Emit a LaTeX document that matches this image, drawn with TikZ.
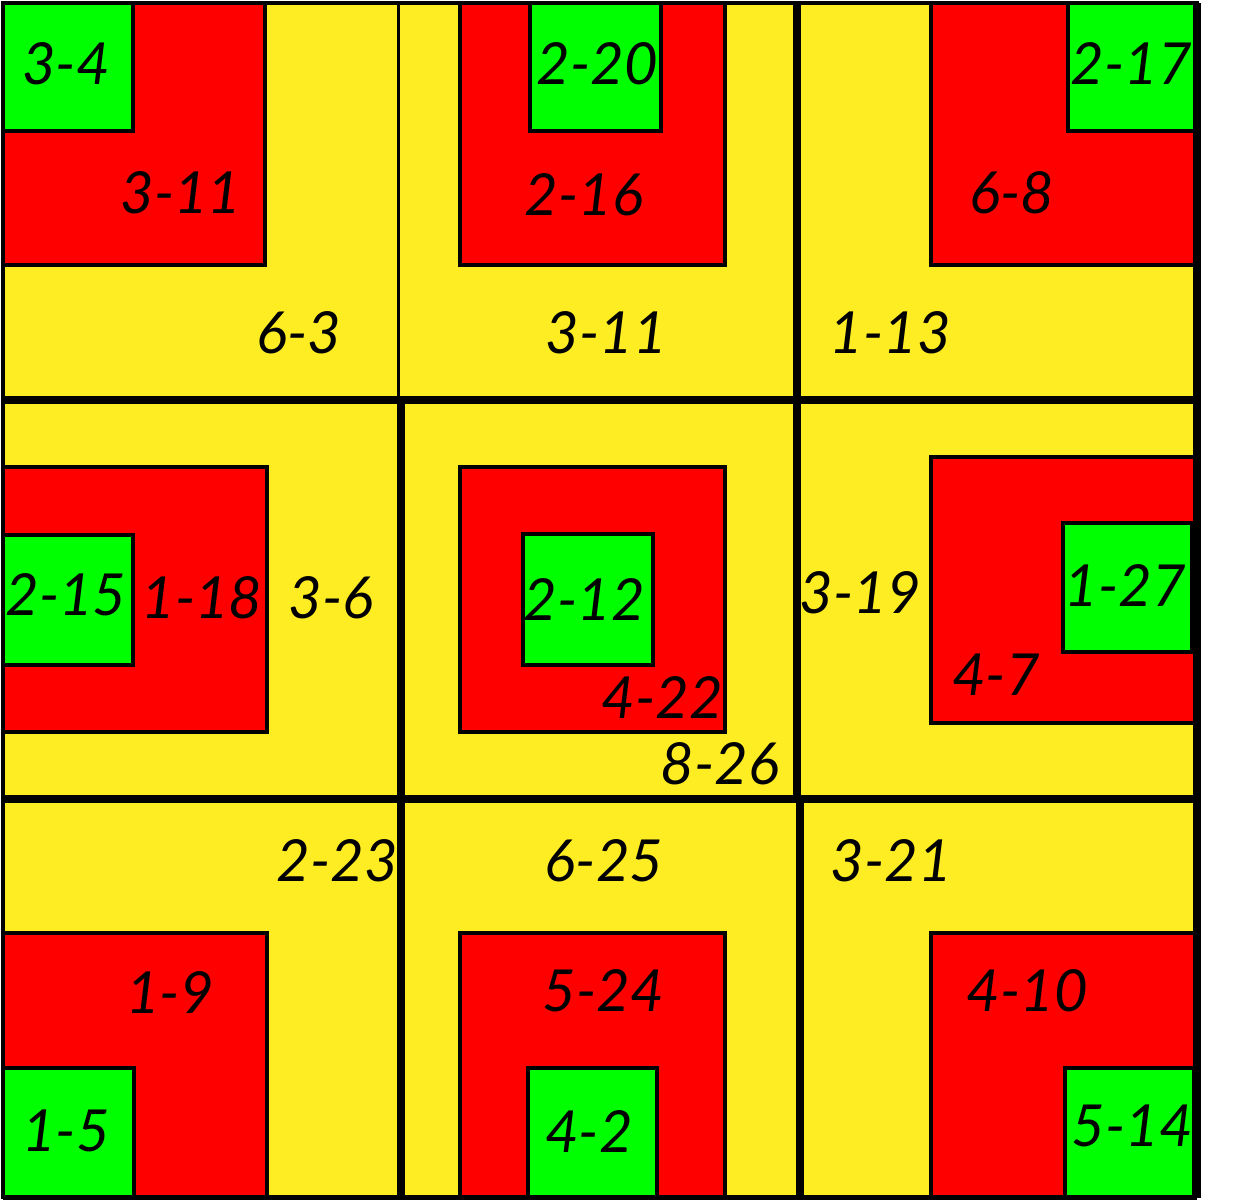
\documentclass[tikz,border=0pt]{standalone}
\usepackage{fontspec}
\newfontfamily\lblfont{Lato}
\definecolor{cellbg}{HTML}{FFED24}
\definecolor{blockred}{HTML}{FF0000}
\definecolor{blockgreen}{HTML}{00FF00}
\definecolor{edge}{HTML}{000000}

\begin{document}
\begin{tikzpicture}[x=1cm,y=1cm,line join=miter,
  lbl/.style={font=\lblfont\itshape\fontsize{16.5}{20}\selectfont,text=black,inner sep=0pt},
  redbox/.style={fill=blockred,draw=edge,line width=0.035cm},
  greenbox/.style={fill=blockgreen,draw=edge,line width=0.035cm},
  gridthin/.style={draw=edge,line width=0.035cm},
  gridthick/.style={draw=edge,line width=0.075cm}]
  \useasboundingbox (0,0) rectangle (12.42,12.00);
  \fill[white] (0,0) rectangle (12.42,12.00);

  % ===== yellow cells =====
  \fill[cellbg] (0.03,0.03) rectangle (11.97,11.97);

  % ===== red squares =====
  \draw[redbox] (0.03,11.97) rectangle (2.65,9.35);   % top row
  \draw[redbox] (4.60,11.97) rectangle (7.25,9.35);
  \draw[redbox] (9.31,11.97) rectangle (11.95,9.35);
  \draw[redbox] (0.03,7.33) rectangle (2.67,4.68);    % middle row
  \draw[redbox] (4.60,7.33) rectangle (7.25,4.68);
  \draw[redbox] (9.31,7.43) rectangle (11.95,4.77);
  \draw[redbox] (0.03,2.67) rectangle (2.67,0.03);    % bottom row
  \draw[redbox] (4.60,2.67) rectangle (7.25,0.03);
  \draw[redbox] (9.31,2.67) rectangle (11.95,0.03);

  % ===== green squares =====
  \draw[greenbox] (0.03,11.97) rectangle (1.33,10.69);
  \draw[greenbox] (5.30,11.97) rectangle (6.61,10.69);
  \draw[greenbox] (10.68,11.97) rectangle (11.97,10.69);
  \draw[greenbox] (0.03,6.65) rectangle (1.33,5.35);
  \draw[greenbox] (5.23,6.66) rectangle (6.53,5.35);
  \draw[greenbox] (10.63,6.77) rectangle (11.92,5.48);
  \draw[greenbox] (0.03,1.32) rectangle (1.34,0.03);
  \draw[greenbox] (5.28,1.32) rectangle (6.57,0.03);
  \draw[greenbox] (10.65,1.32) rectangle (11.94,0.03);

  % ===== grid =====
  \draw[gridthin] (0.03,0.03) -- (0.03,11.97) -- (11.97,11.97);
  \draw[gridthin] (3.985,11.97) -- (3.985,8.00);
  \draw[gridthick] (4.01,8.00) -- (4.01,0.03);
  \draw[gridthick] (7.97,11.97) -- (7.97,4.01);
  \draw[gridthick] (8.00,4.01) -- (8.00,0.03);
  \draw[gridthick] (0.03,8.00) -- (11.97,8.00);
  \draw[gridthick] (0.03,4.01) -- (11.97,4.01);
  \draw[gridthick] (11.97,11.97) -- (11.97,0.025);
  \draw[draw=edge,line width=0.05cm] (0.03,0.025) -- (11.97,0.025);

  % ===== labels =====
  \node[lbl] (tl-in)  at (0.66,11.36) {3-4};
  \node[lbl] (tl-mid) at (1.81,10.07) {3-11};
  \node[lbl] (tl-out) at (2.99,8.67)  {6-3};
  \node[lbl] (tm-in)  at (5.97,11.36) {2-20};
  \node[lbl] (tm-mid) at (5.84,10.05) {2-16};
  \node[lbl] (tm-out) at (6.06,8.67)  {3-11};
  \node[lbl] (tr-in)  at (11.31,11.36) {2-17};
  \node[lbl] (tr-mid) at (10.12,10.07) {6-8};
  \node[lbl] (tr-out) at (8.90,8.67)  {1-13};
  \node[lbl] (ml-in)  at (0.66,6.05) {2-15};
  \node[lbl] (ml-mid) at (2.02,6.02) {1-18};
  \node[lbl] (ml-out) at (3.31,6.02) {3-6};
  \node[lbl] (mm-in)  at (5.84,6.01) {2-12};
  \node[lbl] (mm-mid) at (6.62,5.03) {4-22};
  \node[lbl] (mm-out) at (7.20,4.36) {8-26};
  \node[lbl] (mr-in)  at (11.25,6.14) {1-27};
  \node[lbl] (mr-mid) at (9.96,5.25) {4-7};
  \node[lbl] (mr-out) at (8.60,6.07) {3-19};
  \node[lbl] (bl-out) at (3.37,3.39) {2-23};
  \node[lbl] (bl-mid) at (1.70,2.08) {1-9};
  \node[lbl] (bl-in)  at (0.66,0.69) {1-5};
  \node[lbl] (bm-out) at (6.04,3.39) {6-25};
  \node[lbl] (bm-mid) at (6.03,2.09) {5-24};
  \node[lbl] (bm-in)  at (5.89,0.69) {4-2};
  \node[lbl] (br-out) at (8.91,3.39) {3-21};
  \node[lbl] (br-mid) at (10.27,2.09) {4-10};
  \node[lbl] (br-in)  at (11.32,0.74) {5-14};
\end{tikzpicture}
\end{document}
